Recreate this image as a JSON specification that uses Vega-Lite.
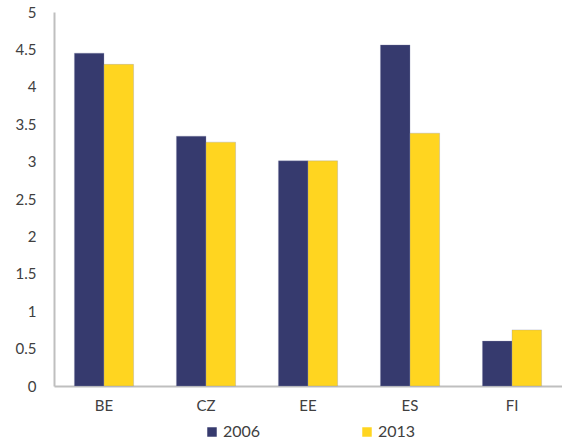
{
  "$schema": "https://vega.github.io/schema/vega-lite/v6.json",
  "width": 562,
  "height": 442,
  "autosize": {"type": "fit", "contains": "padding"},
  "padding": {"left": 15, "right": 0, "top": 5, "bottom": 29},
  "background": "white",
  "config": {
    "view": {"stroke": null},
    "font": "Lato",
    "axis": {"labelFont": "Lato", "labelColor": "#404040", "labelFontSize": 15, "domainColor": "#BFBFBF", "domainWidth": 2, "ticks": false, "grid": false, "title": null}
  },
  "data": {
    "values": [
      {"country": "BE", "year": "2006", "value": 4.45},
      {"country": "BE", "year": "2013", "value": 4.30},
      {"country": "CZ", "year": "2006", "value": 3.34},
      {"country": "CZ", "year": "2013", "value": 3.26},
      {"country": "EE", "year": "2006", "value": 3.01},
      {"country": "EE", "year": "2013", "value": 3.01},
      {"country": "ES", "year": "2006", "value": 4.56},
      {"country": "ES", "year": "2013", "value": 3.38},
      {"country": "FI", "year": "2006", "value": 0.60},
      {"country": "FI", "year": "2013", "value": 0.75}
    ]
  },
  "mark": {"type": "bar", "stroke": "#8A8DB0", "strokeWidth": 0.5, "strokeOpacity": 0.6},
  "encoding": {
    "x": {"field": "country", "type": "nominal", "sort": null, "scale": {"paddingInner": 0.42, "paddingOuter": 0.2},
      "axis": {"labelAngle": 0, "labelPadding": 12}},
    "xOffset": {"field": "year", "type": "nominal"},
    "y": {"field": "value", "type": "quantitative", "scale": {"domain": [0, 5], "nice": false},
      "axis": {"values": [0, 0.5, 1, 1.5, 2, 2.5, 3, 3.5, 4, 4.5, 5], "format": "~g", "labelPadding": 18, "labelFlush": false}},
    "color": {"field": "year", "type": "nominal",
      "scale": {"domain": ["2006", "2013"], "range": ["#363A6E", "#FFD520"]},
      "legend": {"orient": "none", "legendX": 150, "legendY": 412, "direction": "horizontal", "title": null, "symbolType": "square", "symbolSize": 90, "symbolStrokeWidth": 0, "labelFont": "Lato", "labelFontSize": 16, "labelColor": "#404040", "columnPadding": 98, "labelOffset": 3}}
  }
}
